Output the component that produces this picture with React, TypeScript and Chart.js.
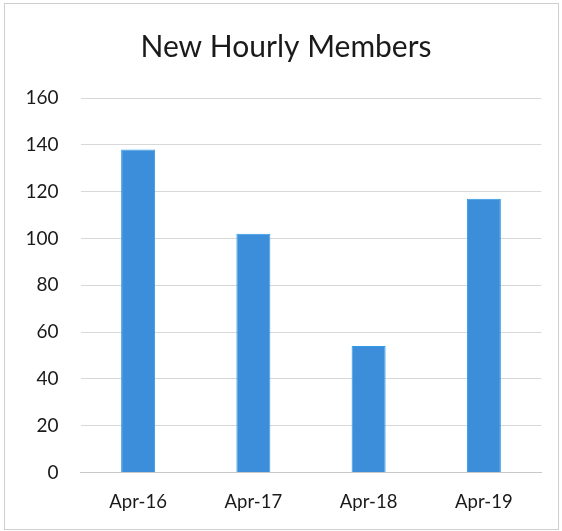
import React, { useEffect, useRef } from "react";
import { Chart, registerables } from "chart.js";

Chart.register(...registerables);

const categories = ["Apr-16", "Apr-17", "Apr-18", "Apr-19"];
const members = [138, 102, 54, 117];
const yMin = 0;
const yMax = 160;
const yStep = 20;

const shiftTitle = {
  id: "shiftTitle",
  afterLayout(chart: any) {
    const t = chart.titleBlock;
    if (t) {
      t.left = 30.5;
      t.width = t.right - t.left;
    }
  },
};

export default function App() {
  const ref = useRef<HTMLCanvasElement | null>(null);

  useEffect(() => {
    if (!ref.current) return;
    const chart = new Chart(ref.current, {
      type: "bar",
      data: {
        labels: categories,
        datasets: [
          {
            label: "New Hourly Members",
            data: members,
            backgroundColor: "#3c8edb",
            borderColor: "#2f9ae6",
            borderWidth: 1,
            barPercentage: 0.295,
            categoryPercentage: 1,
          },
        ],
      },
      options: {
        responsive: false,
        animation: false,
        maintainAspectRatio: false,
        layout: { padding: { left: 0, right: 20.5, top: 0, bottom: 0 } },
        plugins: {
          legend: { display: false },
          tooltip: { enabled: false },
          title: {
            display: true,
            text: "New Hourly Members",
            color: "#1a1a1a",
            font: { family: "Lato", size: 30, weight: "normal", lineHeight: 1.2 },
            padding: { top: 29, bottom: 33 },
          },
        },
        scales: {
          x: {
            grid: { display: false, drawTicks: false },
            border: { display: true, color: "#c8c8c8", width: 1 },
            ticks: {
              color: "#1a1a1a",
              font: { family: "Lato", size: 18.5, lineHeight: 1.0 },
              padding: 20,
            },
          },
          y: {
            min: yMin,
            max: yMax,
            afterFit: (scale: any) => {
              scale.width = 80.5;
            },
            grid: { color: "#d8d8d8", drawTicks: false },
            border: { display: false },
            ticks: {
              stepSize: yStep,
              color: "#1a1a1a",
              font: { family: "Lato", size: 19 },
              padding: 22,
            },
          },
        },
      },
      plugins: [shiftTitle],
    });
    return () => chart.destroy();
  }, []);

  return (
    <div style={{ position: "absolute", left: 0, top: 0, width: 562, height: 531, background: "#fff" }}>
      <canvas ref={ref} width={562} height={531} style={{ display: "block" }} />
      <div
        style={{
          position: "absolute",
          left: 4,
          top: 3,
          width: 553,
          height: 525,
          border: "1px solid #cfcfcf",
          pointerEvents: "none",
        }}
      />
    </div>
  );
}
